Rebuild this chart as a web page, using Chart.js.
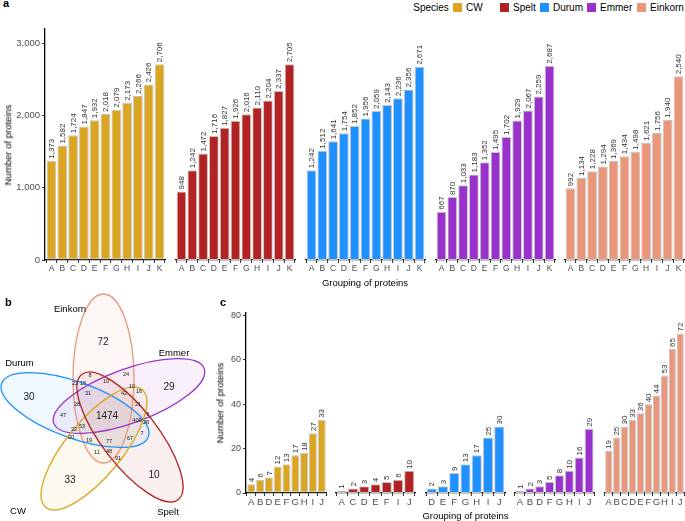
<!DOCTYPE html>
<html><head><meta charset="utf-8">
<script src="https://cdn.jsdelivr.net/npm/chart.js@4.4.1/dist/chart.umd.min.js"></script>
<style>
body{margin:0;width:685px;height:521px;position:relative;overflow:hidden;background:#fff;font-family:"Liberation Sans",Arial,sans-serif;}
canvas{position:absolute;}
.t{position:absolute;white-space:nowrap;color:#000;line-height:1;}
.sw{position:absolute;width:9px;height:9px;}
</style></head><body>
<script>
// ---------- DATA ----------
const speciesNames = ['CW','Spelt','Durum','Emmer','Einkorn'];
const speciesColors = ['#DAA520','#B22222','#1E90FF','#9932CC','#E9967A'];

// panel a
const groupsA = ['A','B','C','D','E','F','G','H','I','J','K'];
const cwA      = [1373,1582,1724,1847,1932,2018,2079,2173,2266,2426,2706];
const speltA   = [948,1242,1472,1716,1827,1926,2016,2110,2204,2337,2705];
const durumA   = [1242,1512,1641,1754,1852,1956,2059,2143,2236,2356,2671];
const emmerA   = [667,870,1033,1183,1352,1495,1702,1929,2067,2259,2687];
const einkornA = [992,1134,1228,1294,1369,1434,1498,1621,1756,1940,2540];
const yTicksA  = [0,1000,2000,3000];

// panel c
const cwCatsC      = ['A','B','D','E','F','G','H','I','J'];
const cwC          = [4,6,7,12,13,17,18,27,33];
const speltCatsC   = ['A','C','D','E','F','I','J'];
const speltC       = [1,2,3,4,5,6,10];
const durumCatsC   = ['D','E','F','G','H','I','J'];
const durumC       = [2,3,9,13,17,25,30];
const emmerCatsC   = ['A','B','D','F','G','H','I','J'];
const emmerC       = [1,2,3,5,8,10,16,29];
const einkornCatsC = ['A','B','C','D','E','F','G','H','I','J'];
const einkornC     = [19,25,30,33,36,40,44,53,65,72];
const yTicksC      = [0,20,40,60,80];

// panel b (Venn) region counts
const vennSetNames = ['Einkorn','Durum','Emmer','CW','Spelt'];
const vennCounts = [72,30,29,33,10,1474,8,24,22,15,10,10,16,31,42,28,21,47,6,409,28,32,53,7,20,19,77,67,11,48,91];

// ---------- LAYOUT (positions / sizes) ----------
const FONT = '"Liberation Sans", Arial, sans-serif';
const vennRegionPos = [[103,342],[29,397],[169,387],[70,480],[154,475],[107,416],[90,375],[126,374],[75,383],[83,383],[106,381],[132,386],[139,391],[88,393],[124,393],[77,404],[138,404],[63,415],[148,414],[137,420],[146,422],[74,429],[82,426],[142,433],[71,437],[89,440],[109,441],[130,438],[97,452],[109,451],[118,458]];
const vennEllipses = [ // cx, cy, rx, ry, rotationDeg  (order = vennSetNames)
  [103.5,378.5,30.5,84.5,0],
  [75,410,78,28,20],
  [129,396,80,27,-20],
  [94,448.5,76,28,-50.6],
  [130,437,79,28,52.5]
];
const vennSetLabelPos = [[70,309],[19.5,363],[174,353],[18,511],[168,512]];

function fmt(v){ return v.toLocaleString('en-US'); }

function addText(txt, x, y, size, o={}){
  const d=document.createElement('div'); d.className='t'; d.textContent=txt;
  d.style.fontSize=size+'px'; d.style.left=x+'px'; d.style.top=y+'px';
  if(o.bold) d.style.fontWeight='bold';
  if(o.color) d.style.color=o.color;
  let tf = o.noCenter ? '' : 'translate(-50%,-50%)';
  if(o.rot) tf+=' rotate(-90deg)';
  d.style.transform=tf;
  document.body.appendChild(d);
}

const valueLabels = {
  id:'valueLabels',
  afterDatasetsDraw(chart, args, opts){
    const ctx=chart.ctx; const meta=chart.getDatasetMeta(0);
    const data=chart.data.datasets[0].data;
    ctx.save();
    ctx.font = opts.size+'px '+FONT; ctx.fillStyle='#333';
    ctx.textAlign='left'; ctx.textBaseline='middle';
    meta.data.forEach((el,i)=>{
      ctx.save(); ctx.translate(el.x+0.5, el.y-opts.gap); ctx.rotate(-Math.PI/2);
      ctx.fillText(fmt(data[i].y),0,0); ctx.restore();
    });
    ctx.restore();
  }
};

function facet(p){
  const cv=document.createElement('canvas');
  const left = p.plotLeft - (p.showY ? p.yW : 0);
  const width = p.plotW + (p.showY ? p.yW : 0);
  const height = p.padTop + p.plotH + p.xH;
  cv.width=width; cv.height=height;
  cv.style.left=left+'px'; cv.style.top=(p.plotTop-p.padTop)+'px';
  cv.style.width=width+'px'; cv.style.height=height+'px';
  document.body.appendChild(cv);
  const n=p.cats.length;
  new Chart(cv,{
    type:'bar',
    data:{datasets:[{
      data:p.vals.map((v,i)=>({x:i,y:v})),
      backgroundColor:p.color, borderColor:'#c4c4c4', borderWidth:1, borderSkipped:false,
      categoryPercentage:0.9, barPercentage:1
    }]},
    options:{
      responsive:false, animation:false, devicePixelRatio:1,
      layout:{padding:{top:p.padTop,left:0,right:0,bottom:0}, autoPadding:false},
      plugins:{legend:{display:false}, tooltip:{enabled:false},
        valueLabels:{size:p.labelSize, gap:2}},
      scales:{
        x:{type:'linear', bounds:'data', min:-0.6, max:n-0.4, offset:false,
          afterBuildTicks:s=>{ s.ticks=p.cats.map((c,i)=>({value:i})); },
          ticks:{callback:v=>p.cats[v], autoSkip:false, maxRotation:0, minRotation:0,
            font:{size:p.xFont, family:FONT}, color:'#4d4d4d', padding:1},
          grid:{display:true, drawOnChartArea:false, drawTicks:true, tickLength:3, color:'#333', lineWidth:1},
          border:{display:true, color:'#000', width:1.3},
          afterFit:s=>{ s.height=p.xH; }
        },
        y:{type:'linear', display:p.showY, bounds:'data', min:0, max:p.yMax,
          afterBuildTicks:s=>{ s.ticks=p.yTicks.map(v=>({value:v})); },
          ticks:{callback:v=>fmt(v), font:{size:p.yFont, family:FONT}, color:'#4d4d4d', padding:2},
          grid:{display:true, drawOnChartArea:false, drawTicks:true, tickLength:3, color:'#333', lineWidth:1},
          border:{display:true, color:'#000', width:1.3},
          afterFit:s=>{ s.width = p.showY ? p.yW : 0; }
        }
      }
    },
    plugins:[valueLabels]
  });
}

// ---------- PANEL a ----------
const aSeries=[cwA,speltA,durumA,emmerA,einkornA];
const aLefts=[45,175,305,435,564];
aSeries.forEach((vals,k)=>facet({
  plotLeft:aLefts[k], plotW:121, plotTop:29, plotH:231, padTop:9, xH:17, yW:45,
  showY:k===0, cats:groupsA, vals, color:speciesColors[k], yMax:3194, yTicks:yTicksA,
  labelSize:8, xFont:8.5, yFont:9.5
}));

// ---------- PANEL c ----------
const cSeries=[[cwCatsC,cwC],[speltCatsC,speltC],[durumCatsC,durumC],[emmerCatsC,emmerC],[einkornCatsC,einkornC]];
const cLefts=[246,335,425,514,604];
cSeries.forEach((s,k)=>facet({
  plotLeft:cLefts[k], plotW:81, plotTop:313, plotH:180, padTop:9, xH:18, yW:24,
  showY:k===0, cats:s[0], vals:s[1], color:speciesColors[k], yMax:81.2, yTicks:yTicksC,
  labelSize:8, xFont:9.5, yFont:9
}));

// ---------- PANEL b (Venn) ----------
const vennColorOf = vennSetNames.map(n=>speciesColors[speciesNames.indexOf(n)]);
function hexA(h,a){const r=parseInt(h.slice(1,3),16),g=parseInt(h.slice(3,5),16),b=parseInt(h.slice(5,7),16);return `rgba(${r},${g},${b},${a})`;}
const vennPlugin={
  id:'venn',
  beforeDatasetsDraw(chart){
    const ctx=chart.ctx, xs=chart.scales.x, ys=chart.scales.y;
    const geo=vennEllipses.map(e=>{
      const cx=xs.getPixelForValue(e[0]), cy=ys.getPixelForValue(e[1]);
      const rx=Math.abs(xs.getPixelForValue(e[0]+e[2])-cx), ry=Math.abs(ys.getPixelForValue(e[1]+e[3])-cy);
      return [cx,cy,rx,ry,e[4]*Math.PI/180];
    });
    ctx.save();
    geo.forEach((g,i)=>{ctx.beginPath();ctx.ellipse(g[0],g[1],g[2],g[3],g[4],0,Math.PI*2);ctx.fillStyle=hexA(vennColorOf[i],0.07);ctx.fill();});
    geo.forEach((g,i)=>{ctx.beginPath();ctx.ellipse(g[0],g[1],g[2],g[3],g[4],0,Math.PI*2);ctx.strokeStyle=vennColorOf[i];ctx.lineWidth=1.3;ctx.stroke();});
    ctx.restore();
  },
  afterDatasetsDraw(chart){
    const ctx=chart.ctx, xs=chart.scales.x, ys=chart.scales.y;
    const meta=chart.getDatasetMeta(0);
    ctx.save(); ctx.textAlign='center'; ctx.textBaseline='middle'; ctx.fillStyle='#222';
    meta.data.forEach((el,i)=>{
      const size = i<5 ? 10 : (i===5 ? 10 : 5.6);
      ctx.font = size+'px '+FONT;
      ctx.fillText(String(vennCounts[i]), el.x, el.y);
    });
    ctx.fillStyle='#000'; ctx.font='9.5px '+FONT;
    vennSetNames.forEach((n,i)=>{
      ctx.fillText(n, xs.getPixelForValue(vennSetLabelPos[i][0]), ys.getPixelForValue(vennSetLabelPos[i][1]));
    });
    ctx.restore();
  }
};
(function(){
  const cv=document.createElement('canvas'); cv.width=215; cv.height=236;
  cv.style.left='0px'; cv.style.top='285px'; cv.style.width='215px'; cv.style.height='236px';
  document.body.appendChild(cv);
  new Chart(cv,{
    type:'scatter',
    data:{datasets:[{data:vennRegionPos.map(p=>({x:p[0],y:p[1]})), pointRadius:0}]},
    options:{responsive:false, animation:false, devicePixelRatio:1,
      layout:{padding:0, autoPadding:false},
      plugins:{legend:{display:false}, tooltip:{enabled:false}},
      scales:{x:{type:'linear',display:false,min:0,max:215,bounds:'data'},
              y:{type:'linear',display:false,min:285,max:521,reverse:true,bounds:'data'}}},
    plugins:[vennPlugin]
  });
})();

// ---------- TEXT ----------
addText('a', 3, -2, 11, {bold:true, noCenter:true});
addText('b', 5, 297, 11, {bold:true, noCenter:true});
addText('c', 220, 297, 11, {bold:true, noCenter:true});
addText('Number of proteins', 8, 145, 9.5, {rot:true});
addText('Grouping of proteins', 365, 283, 9.5);
addText('Number of proteins', 220, 403, 9.5, {rot:true});
addText('Grouping of proteins', 465.5, 516, 9.5);
// legend
addText('Species', 431, 7.5, 10);
const swX=[453,500,540,587,637];
speciesNames.forEach((n,i)=>{
  const s=document.createElement('div'); s.className='sw';
  s.style.left=swX[i]+'px'; s.style.top='3px'; s.style.background=speciesColors[i];
  document.body.appendChild(s);
  const d=document.createElement('div'); d.className='t'; d.textContent=n;
  d.style.fontSize='10px'; d.style.left=(swX[i]+13)+'px'; d.style.top='2.5px';
  document.body.appendChild(d);
});
</script>
</body></html>
